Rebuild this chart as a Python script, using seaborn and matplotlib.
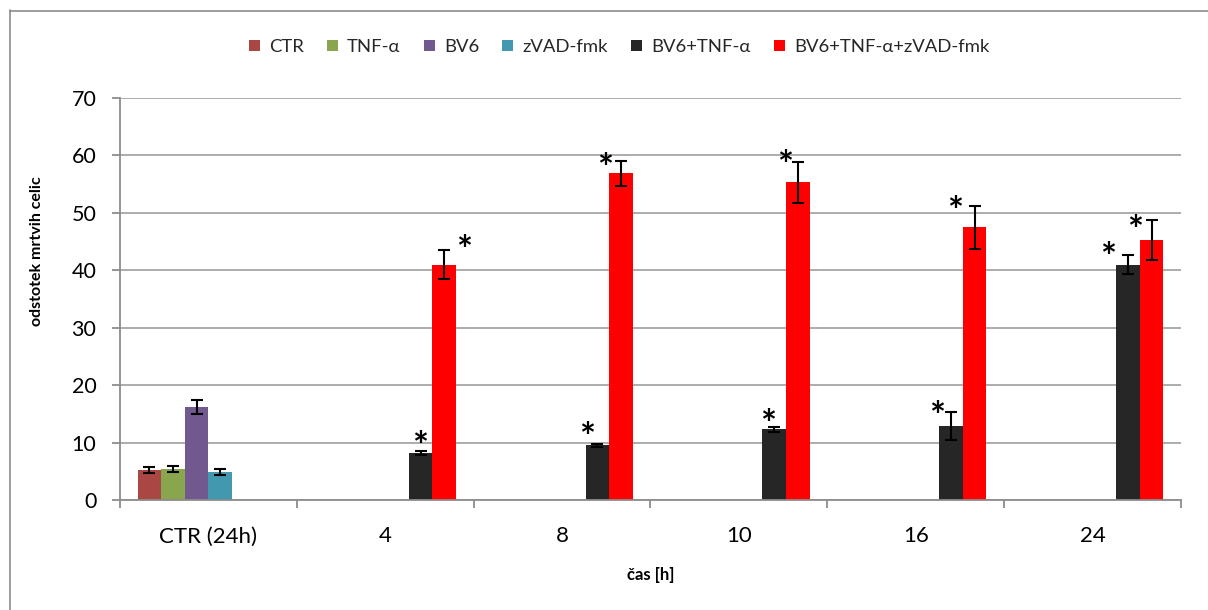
import numpy as np
import pandas as pd
import matplotlib
matplotlib.use("Agg")
import matplotlib.pyplot as plt
from matplotlib.lines import Line2D
from matplotlib.ticker import FixedLocator
import seaborn as sns

# ---------------- data ----------------
categories = ["CTR (24h)", "4", "8", "10", "16", "24"]
series = ["CTR", "TNF-α", "BV6", "zVAD-fmk", "BV6+TNF-α", "BV6+TNF-α+zVAD-fmk"]
nan = np.nan
ctr_vals = [5.2, nan, nan, nan, nan, nan]
tnf_vals = [5.4, nan, nan, nan, nan, nan]
bv6_vals = [16.2, nan, nan, nan, nan, nan]
zvad_vals = [4.9, nan, nan, nan, nan, nan]
bv6tnf_vals = [nan, 8.1, 9.5, 12.3, 12.9, 41.0]
bv6tnfzvad_vals = [nan, 41.0, 56.9, 55.3, 47.5, 45.3]

ctr_err = [0.55, nan, nan, nan, nan, nan]
tnf_err = [0.6, nan, nan, nan, nan, nan]
bv6_err = [1.2, nan, nan, nan, nan, nan]
zvad_err = [0.5, nan, nan, nan, nan, nan]
bv6tnf_err = [nan, 0.35, 0.3, 0.45, 2.5, 1.65]
bv6tnfzvad_err = [nan, 2.6, 2.2, 3.55, 3.75, 3.45]

# significance marks (True = "*")
bv6tnf_sig = [False, True, True, True, True, True]
bv6tnfzvad_sig = [False, True, True, True, True, True]

colors = ["#AA4643", "#89A54E", "#71588F", "#4198AF", "#262626", "#FF0000"]

# star placement relative to top of error bar (pixels), style only
bv6tnf_star_off = [None, (-1, 13), (-10, 15), (-6, 11), (-14, 3), (-20, 6)]
bv6tnfzvad_star_off = [None, (20, 7), (-16, 0), (-13, 5), (-20, 3), (-16, -2)]

all_vals = [ctr_vals, tnf_vals, bv6_vals, zvad_vals, bv6tnf_vals, bv6tnfzvad_vals]
all_errs = [ctr_err, tnf_err, bv6_err, zvad_err, bv6tnf_err, bv6tnfzvad_err]
all_sig = [[False] * 6] * 4 + [bv6tnf_sig, bv6tnfzvad_sig]
all_off = [[None] * 6] * 4 + [bv6tnf_star_off, bv6tnfzvad_star_off]

rows = []
for s, vals in zip(series, all_vals):
    for c, v in zip(categories, vals):
        if not np.isnan(v):
            rows.append({"cas": c, "vrednost": v, "serija": s})
df = pd.DataFrame(rows)

# ---------------- plot ----------------
sns.set_theme(style="white")
plt.rcParams["font.family"] = ["Lato", "DejaVu Sans"]

W, H = 1208, 610
fig = plt.figure(figsize=(W / 100, H / 100), dpi=100)
ax = fig.add_axes([120 / W, 1 - 500 / H, (1181 - 120) / W, (500 - 98) / H])

sns.barplot(data=df, x="cas", y="vrednost", hue="serija", order=categories,
            hue_order=series, palette=colors, width=0.8, errorbar=None,
            saturation=1, ax=ax, zorder=2, linewidth=0)

handles, labels = ax.get_legend_handles_labels()
if ax.get_legend() is not None:
    ax.get_legend().remove()

nh = len(series)
bw = 0.8 / nh
for p in list(ax.patches):
    if p.get_height() == 0 and p.get_width() == 0:
        continue
    xc = p.get_x() + p.get_width() / 2
    h = p.get_height()
    ci = int(round(xc))
    hi = int(round((xc - ci + 0.4 - bw / 2) / bw))
    if hi < 0 or hi >= nh or ci < 0 or ci >= len(categories):
        continue
    e = all_errs[hi][ci]
    if np.isnan(e):
        continue
    ax.errorbar(xc, h, yerr=e, fmt="none", ecolor="black", elinewidth=1.5,
                capsize=4, capthick=1.5, zorder=3)
    if all_sig[hi][ci]:
        dx, dy = all_off[hi][ci]
        ax.annotate("*", xy=(xc, h + e), xytext=(dx * 0.72, dy * 0.72 - 15),
                    textcoords="offset points", ha="center", va="baseline",
                    fontsize=27, fontweight="bold", color="black", zorder=4)

ax.set_xlim(-0.5, len(categories) - 0.5)
ax.set_ylim(0, 70)
ax.set_yticks(np.arange(0, 71, 10))
ax.yaxis.grid(True, color="#A6A6A6", linewidth=1.3, zorder=0)
ax.set_axisbelow(True)
for side in ["top", "right"]:
    ax.spines[side].set_visible(False)
for side in ["left", "bottom"]:
    ax.spines[side].set_color("#8C8C8C")
    ax.spines[side].set_linewidth(1.3)

ax.tick_params(axis="y", which="major", length=6, width=1.3, color="#8C8C8C",
               direction="out", pad=11, labelsize=15.5, left=True)
ax.set_xticks(range(len(categories)))
ax.set_xticklabels(categories)
ax.xaxis.set_minor_locator(FixedLocator(np.arange(-0.5, len(categories), 1.0)))
ax.tick_params(axis="x", which="major", length=0, pad=19, labelsize=16)
ax.tick_params(axis="x", which="minor", length=6, width=1.3, color="#8C8C8C",
               direction="out", bottom=True)
for lab in ax.get_yticklabels() + ax.get_xticklabels():
    lab.set_color("black")

ax.set_xlabel("čas [h]", fontsize=12, fontweight="bold", labelpad=15, color="black")
ax.set_ylabel("odstotek mrtvih celic", fontsize=11.5, fontweight="bold", color="black",
              va="center")
ax.yaxis.set_label_coords((37.5 - 120) / 1061, (500 - 251.5) / 402)

fig.legend(handles, labels, loc="center", bbox_to_anchor=(619 / W, 1 - 47 / H),
           ncol=6, frameon=False, fontsize=13.3, handlelength=0.6, handleheight=0.6,
           handletextpad=0.5, columnspacing=1.25, borderaxespad=0)

# outer chart-area frame
fig.add_artist(Line2D([9.5 / W, 9.5 / W], [1 - 10 / H, 0], transform=fig.transFigure,
                      color="#8C8C8C", linewidth=1.2))
fig.add_artist(Line2D([9.5 / W, 1], [1 - 10.5 / H, 1 - 10.5 / H], transform=fig.transFigure,
                      color="#8C8C8C", linewidth=1.2))

fig.savefig("out.png", dpi=100)
